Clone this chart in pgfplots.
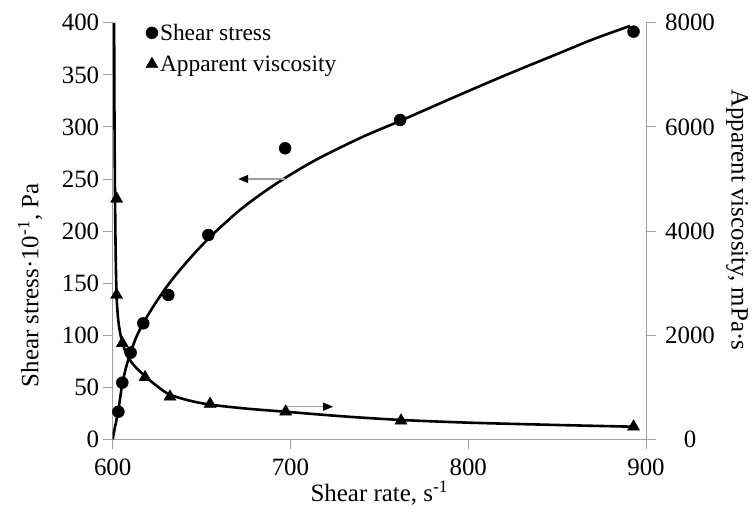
\documentclass[border=0pt]{standalone}
\usepackage{fontspec}
\setmainfont{Liberation Serif}
\usepackage{pgfplots}
\pgfplotsset{compat=1.18}
\usetikzlibrary{arrows.meta}
\definecolor{axgray}{RGB}{160,160,160}

\pgfplotsset{
 common/.style={
  scale only axis, width=533.3bp, height=416.5bp,
  xmin=600, xmax=900,
  /pgf/number format/assume math mode=true,
  /pgf/number format/1000 sep={},
  tick align=outside,
  major tick length=10bp,
  tick style={axgray, line width=0.9bp},
  axis line style={axgray, line width=0.9bp},
  ticklabel style={font=\fontsize{25}{28}\selectfont},
  label style={font=\fontsize{25}{28}\selectfont},
 }
}

\begin{document}
\begin{tikzpicture}
\begin{axis}[common, name=ax1,
  axis x line*=bottom, axis y line*=left,
  ymin=0, ymax=400, ytick={0,50,...,400}, xtick={600,700,800,900},
  xticklabel style={yshift=-6bp},
  xlabel={Shear rate, s\textsuperscript{-1}},
  xlabel style={at={(axis description cs:0.5,-0.129)}, anchor=center},
  ylabel={Shear stress·10\textsuperscript{-1}, Pa},
  ylabel style={at={(axis description cs:-0.155,0.37)}, anchor=center},
  legend style={at={(0,1)}, anchor=north west, draw=none, fill=none,
    xshift=30bp, yshift=3bp, font=\fontsize{23.5}{26}\selectfont,
    row sep=10bp},
  legend cell align=left,
  /tikz/every even column/.append style={column sep=7bp},
]
\addplot[black, line width=2.6bp, smooth, forget plot] coordinates {
 (600,0) (601.2,11) (602.3,20) (603.2,28) (604.3,41) (605.4,53)
 (607.5,69) (610,83) (613,97) (617,111) (623,128) (631,148) (641,169)
 (654,193) (670,218) (683,235) (697,251) (715,269) (740,290) (762,306)
 (790,327) (820,349) (850,370) (870,384) (891,397)};
\addplot[only marks, mark=*, mark size=6bp, black] coordinates {
 (603.2,26.5) (605.4,54.4) (610.1,83.2) (617.2,111.4) (631.3,138.6)
 (653.8,196.2) (697.0,279.5) (761.7,306.7) (893.0,391.5)};
\addlegendentry{Shear stress}
\addlegendimage{only marks, mark=triangle*, mark size=7bp, black}
\addlegendentry{Apparent viscosity}
\draw[axgray, line width=1.1bp, -{Triangle[length=10bp,width=8bp,black]}]
  (axis cs:697,250) -- (axis cs:670.6,250);
\draw[axgray, line width=1.1bp, -{Triangle[length=10bp,width=8bp,black]}]
  (axis cs:697,31.3) -- (axis cs:724,31.3);
\end{axis}
\begin{axis}[common,
  axis x line=none, axis y line*=right,
  ymin=0, ymax=8000, ytick={0,2000,...,8000},
  yticklabel style={anchor=center, xshift=34bp},
  ylabel={Apparent viscosity, mPa·s},
  ylabel style={at={(axis description cs:1.171,0.527)}, anchor=center, rotate=180},
]
\addplot[black, line width=2.6bp, smooth] coordinates {
 (600.8,8000) (601.0,6200) (601.3,4700) (601.7,3500) (602.2,2750)
 (603,2330) (604,2080) (605.4,1860) (608,1620) (612,1420) (618,1220)
 (625,1020) (632,860) (643,745) (655,665) (675,590) (697,530) (730,440)
 (762,372) (800,320) (850,275) (893,242)};
\addplot[only marks, mark=triangle*, mark size=7bp, black] coordinates {
 (602.2,4620) (602.2,2772) (605.4,1844) (618.2,1191) (632.2,818)
 (654.8,678) (697.3,530) (762.2,357) (893,242)};
\end{axis}
\path[use as bounding box] ([shift={(-112.7bp,-78.7bp)}]ax1.south west) rectangle ([shift={(639.3bp,439.3bp)}]ax1.south west);
\end{tikzpicture}
\end{document}
